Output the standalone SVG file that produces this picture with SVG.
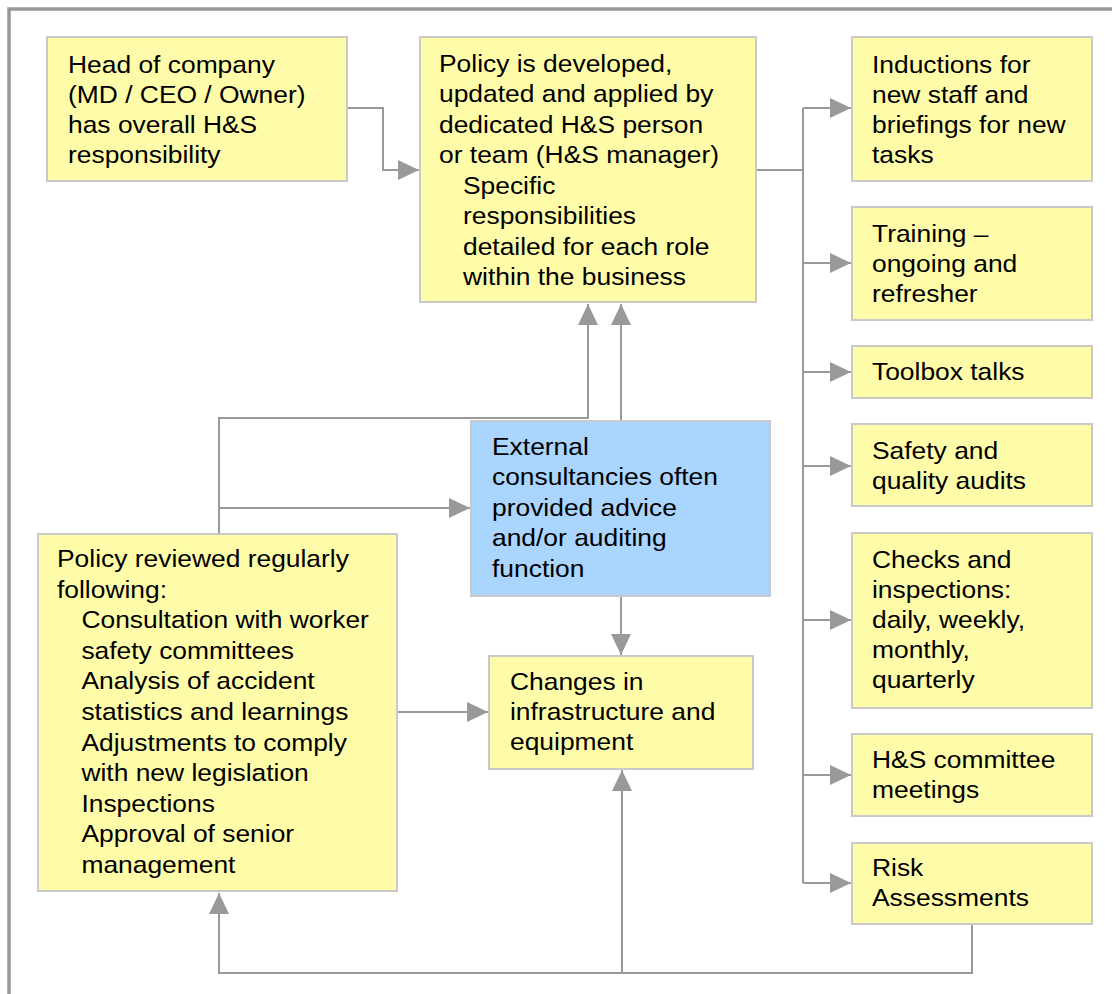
<svg xmlns="http://www.w3.org/2000/svg" width="1112" height="994" viewBox="0 0 1112 994">
<style>
.box{fill:#FFFCA9;stroke:#C9C9C9;stroke-width:2}
.blue{fill:#A9D5FF;stroke:#C9C9C9;stroke-width:2}
.t{font-family:"Liberation Sans",Arial,sans-serif;font-size:24px;fill:#000}
.c{fill:none;stroke:#999;stroke-width:2}
</style>
<defs>
<marker id="ah" markerUnits="userSpaceOnUse" markerWidth="21" markerHeight="20" refX="21" refY="10" orient="auto">
<path d="M0,0 L21,10 L0,20 z" fill="#999"/>
</marker>
</defs>
<rect x="9" y="9" width="1200" height="1100" fill="none" stroke="#999" stroke-width="3.5"/>
<g id="connectors">
<path class="c" d="M347,108 H383 V170 H419" marker-end="url(#ah)"/>
<path class="c" d="M756,170 H803"/>
<path class="c" d="M803,108 V883"/>
<path class="c" d="M803,108 H851" marker-end="url(#ah)"/>
<path class="c" d="M803,263 H851" marker-end="url(#ah)"/>
<path class="c" d="M803,372 H851" marker-end="url(#ah)"/>
<path class="c" d="M803,466 H851" marker-end="url(#ah)"/>
<path class="c" d="M803,620 H851" marker-end="url(#ah)"/>
<path class="c" d="M803,775 H851" marker-end="url(#ah)"/>
<path class="c" d="M803,883 H851" marker-end="url(#ah)"/>
<path class="c" d="M219,533 V418 H588 V304" marker-end="url(#ah)"/>
<path class="c" d="M219,508 H470" marker-end="url(#ah)"/>
<path class="c" d="M621,420 V304" marker-end="url(#ah)"/>
<path class="c" d="M621,597 V655" marker-end="url(#ah)"/>
<path class="c" d="M398,712 H488" marker-end="url(#ah)"/>
<path class="c" d="M972,925 V973 H219 V893" marker-end="url(#ah)"/>
<path class="c" d="M622,973 V770" marker-end="url(#ah)"/>
</g>
<g id="head">
<rect class="box" x="47" y="37" width="300" height="144"/>
<text class="t" transform="translate(68,73) scale(1.1,1)"><tspan x="0">Head of company</tspan><tspan x="0" dy="30">(MD / CEO / Owner)</tspan><tspan x="0" dy="30">has overall H&amp;S</tspan><tspan x="0" dy="30">responsibility</tspan></text>
</g>
<g id="policy">
<rect class="box" x="420" y="37" width="336" height="265"/>
<text class="t" transform="translate(439,72) scale(1.1,1)"><tspan x="0">Policy is developed,</tspan><tspan x="0" dy="30.5">updated and applied by</tspan><tspan x="0" dy="30.5">dedicated H&amp;S person</tspan><tspan x="0" dy="30.5">or team (H&amp;S manager)</tspan><tspan x="21.8" dy="30.5">Specific</tspan><tspan x="21.8" dy="30.5">responsibilities</tspan><tspan x="21.8" dy="30.5">detailed for each role</tspan><tspan x="21.8" dy="30.5">within the business</tspan></text>
</g>
<g id="inductions">
<rect class="box" x="852" y="37" width="240" height="144"/>
<text class="t" transform="translate(872,73) scale(1.1,1)"><tspan x="0">Inductions for</tspan><tspan x="0" dy="30">new staff and</tspan><tspan x="0" dy="30">briefings for new</tspan><tspan x="0" dy="30">tasks</tspan></text>
</g>
<g id="training">
<rect class="box" x="852" y="207" width="240" height="113"/>
<text class="t" transform="translate(872,242) scale(1.1,1)"><tspan x="0">Training –</tspan><tspan x="0" dy="30">ongoing and</tspan><tspan x="0" dy="30">refresher</tspan></text>
</g>
<g id="toolbox">
<rect class="box" x="852" y="346" width="240" height="52"/>
<text class="t" transform="translate(872,380) scale(1.1,1)">Toolbox talks</text>
</g>
<g id="safety">
<rect class="box" x="852" y="424" width="240" height="82"/>
<text class="t" transform="translate(872,459) scale(1.1,1)"><tspan x="0">Safety and</tspan><tspan x="0" dy="30">quality audits</tspan></text>
</g>
<g id="checks">
<rect class="box" x="852" y="533" width="240" height="175"/>
<text class="t" transform="translate(872,568) scale(1.1,1)"><tspan x="0">Checks and</tspan><tspan x="0" dy="30">inspections:</tspan><tspan x="0" dy="30">daily, weekly,</tspan><tspan x="0" dy="30">monthly,</tspan><tspan x="0" dy="30">quarterly</tspan></text>
</g>
<g id="committee">
<rect class="box" x="852" y="734" width="240" height="82"/>
<text class="t" transform="translate(872,768) scale(1.1,1)"><tspan x="0">H&amp;S committee</tspan><tspan x="0" dy="30">meetings</tspan></text>
</g>
<g id="risk">
<rect class="box" x="852" y="843" width="240" height="81"/>
<text class="t" transform="translate(872,876) scale(1.1,1)"><tspan x="0">Risk</tspan><tspan x="0" dy="30">Assessments</tspan></text>
</g>
<g id="external">
<rect class="blue" x="471" y="421" width="299" height="175"/>
<text class="t" transform="translate(492,455) scale(1.1,1)"><tspan x="0">External</tspan><tspan x="0" dy="30.4">consultancies often</tspan><tspan x="0" dy="30.4">provided advice</tspan><tspan x="0" dy="30.4">and/or auditing</tspan><tspan x="0" dy="30.4">function</tspan></text>
</g>
<g id="changes">
<rect class="box" x="489" y="656" width="264" height="113"/>
<text class="t" transform="translate(510,690) scale(1.1,1)"><tspan x="0">Changes in</tspan><tspan x="0" dy="30">infrastructure and</tspan><tspan x="0" dy="30">equipment</tspan></text>
</g>
<g id="review">
<rect class="box" x="38" y="534" width="359" height="357"/>
<text class="t" transform="translate(57,567) scale(1.1,1)"><tspan x="0">Policy reviewed regularly</tspan><tspan x="0" dy="30.6">following:</tspan><tspan x="22.2" dy="30.6">Consultation with worker</tspan><tspan x="22.2" dy="30.6">safety committees</tspan><tspan x="22.2" dy="30.6">Analysis of accident</tspan><tspan x="22.2" dy="30.6">statistics and learnings</tspan><tspan x="22.2" dy="30.6">Adjustments to comply</tspan><tspan x="22.2" dy="30.6">with new legislation</tspan><tspan x="22.2" dy="30.6">Inspections</tspan><tspan x="22.2" dy="30.6">Approval of senior</tspan><tspan x="22.2" dy="30.6">management</tspan></text>
</g>
</svg>
